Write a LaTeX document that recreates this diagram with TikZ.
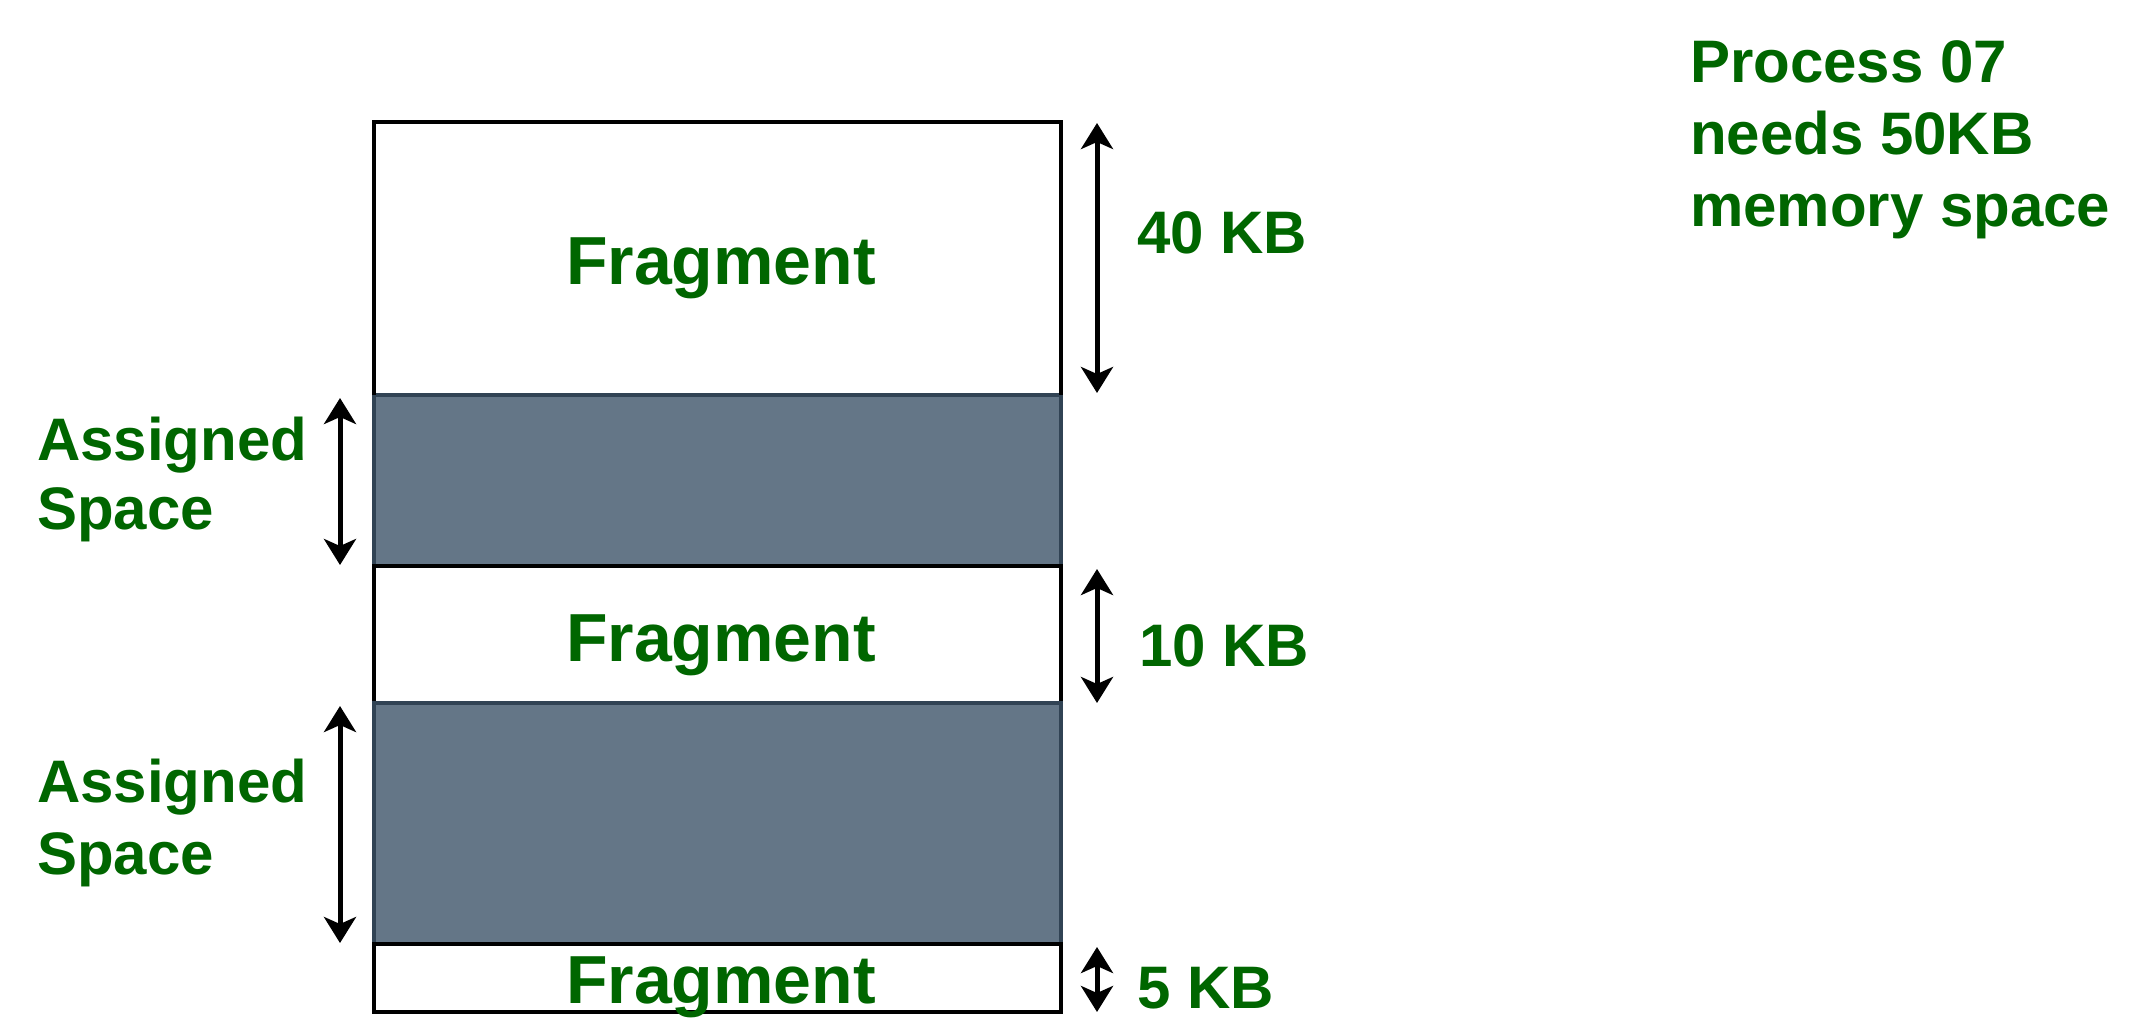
\documentclass[tikz,border=0pt]{standalone}
\usepackage{fontspec}
\setmainfont{Liberation Sans}
\usetikzlibrary{arrows.meta}
\definecolor{lbl}{HTML}{006600}
\definecolor{grayfill}{HTML}{647687}
\definecolor{graystroke}{HTML}{314354}
\tikzset{
  freebox/.style={draw=black, line width=4pt, fill=white},
  usedbox/.style={draw=graystroke, line width=4pt, fill=grayfill},
  lab/.style={text=lbl, font=\fontsize{60}{72}\selectfont\bfseries, inner sep=0pt, anchor=base west},
  fraglab/.style={text=lbl, font=\fontsize{68}{80}\selectfont\bfseries, inner sep=0pt, anchor=base},
  dim/.style={line width=5pt, {Stealth[length=26pt,width=32pt,inset=7pt]}-{Stealth[length=26pt,width=32pt,inset=7pt]}}
}
\begin{document}
\begin{tikzpicture}[x=1pt,y=-1pt]
\useasboundingbox (0,0) rectangle (2142,1034);
% memory blocks
\path[freebox] (374,122) rectangle (1061,395);
\path[usedbox] (374,395) rectangle (1061,566);
\path[freebox] (374,566) rectangle (1061,703);
\path[usedbox] (374,703) rectangle (1061,944);
\path[freebox] (374,944) rectangle (1061,1012);
\draw[black, line width=4pt] (374,395) -- (374,122) -- (1061,122) -- (1061,395);
% fragment labels
\node[fraglab] (f1) at (721,284) {Fragment};
\node[fraglab] (f2) at (721,661) {Fragment};
\node[fraglab] (f3) at (721,1003) {Fragment};
% dimension coordinates
\coordinate (r1t) at (1097,123);
\coordinate (r1b) at (1097,393);
\coordinate (r2t) at (1097,569);
\coordinate (r2b) at (1097,703);
\coordinate (r3t) at (1097,947);
\coordinate (r3b) at (1097,1012);
\coordinate (l1t) at (340,398);
\coordinate (l1b) at (340,565);
\coordinate (l2t) at (340,706);
\coordinate (l2b) at (340,943);
\draw[dim] (r1t) -- (r1b);
\draw[dim] (r2t) -- (r2b);
\draw[dim] (r3t) -- (r3b);
\draw[dim] (l1t) -- (l1b);
\draw[dim] (l2t) -- (l2b);
% size labels
\node[lab] (k40) at (1137,253) {40 KB};
\node[lab] (k10) at (1139,666) {10 KB};
\node[lab] (k5) at (1137,1008) {5 KB};
% assigned labels
\node[lab] (a1a) at (37,460) {Assigned};
\node[lab] (a1b) at (37,529) {Space};
\node[lab] (a2a) at (37,802) {Assigned};
\node[lab] (a2b) at (37,874) {Space};
% process note
\node[lab] (p1) at (1690,82) {Process 07};
\node[lab] (p2) at (1690,154) {needs 50KB};
\node[lab] (p3) at (1690,226) {memory space};
\end{tikzpicture}
\end{document}
